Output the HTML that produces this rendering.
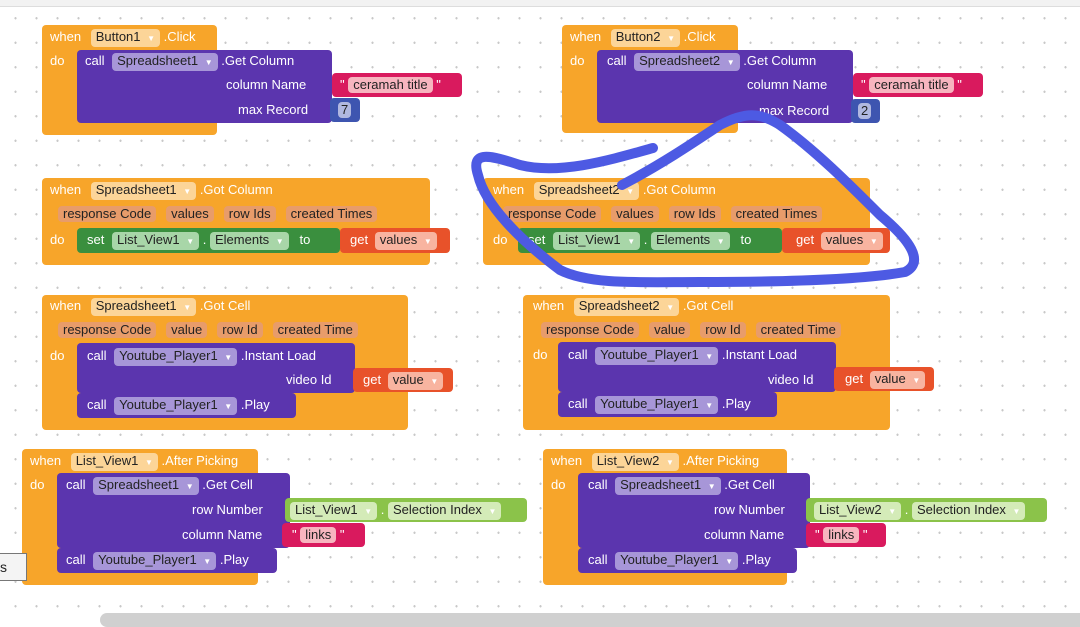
<!DOCTYPE html>
<html><head><meta charset="utf-8"><style>
body{margin:0;width:1080px;height:624px;overflow:hidden;position:relative;background:#fff;
background-image:radial-gradient(circle,#c8c8c8 1px,transparent 1.3px);background-size:21px 24.5px;background-position:5px 6px;
font-family:"Liberation Sans",Arial,sans-serif;font-size:13px;color:#fff}
.b{position:absolute;box-sizing:border-box;border-radius:4px}
.o{background:#F7A52A}.p{background:#5B35AE}.g{background:#3A8F3E}.lg{background:#8BC34A}.r{background:#D91A5E}.rd{background:#E8522A}.bl{background:#3E55B0}
.t{position:absolute;white-space:nowrap;line-height:16px}
.pill{display:inline-block;border-radius:4px;padding:0 5px;line-height:16px;color:#222}
.po{background:#FCD598}.pp{background:#A796D8}.pg{background:#A8D6A8}.pr{background:#F7B5BF}.prd{background:#F8B4A0}.plg{background:#D4EBB8}.pb{background:#B0B8E0}
.pa{background:#E89C6A;color:#222;border-radius:4px;padding:0 5px;line-height:16px;display:inline-block;margin-right:10px}
.ar{font-size:8px;color:#fff;margin-left:3px}
</style></head><body>
<div style="position:absolute;left:0;top:0;width:1080px;height:6px;background:#f2f2f2;border-bottom:1px solid #ddd"></div>

<!-- Block Button1 -->
<div class="b o" style="left:42px;top:25px;width:175px;height:110px"></div>
<div class="t" style="left:50px;top:29px">when <span class="pill po" style="margin-left:6px">Button1 <span class="ar" style="color:#fff">▼</span></span> .Click</div>
<div class="t" style="left:50px;top:53px">do</div>
<div class="b p" style="left:77px;top:50px;width:255px;height:73px"></div>
<div class="t" style="left:85px;top:53px">call <span class="pill pp" style="margin-left:4px">Spreadsheet1 <span class="ar">▼</span></span> .Get Column</div>
<div class="t" style="left:226px;top:77px">column Name</div>
<div class="t" style="left:238px;top:102px">max Record</div>
<div class="b r" style="left:332px;top:73px;width:130px;height:24px"></div>
<div class="t" style="left:340px;top:77px">" <span class="pill pr">ceramah title</span> "</div>
<div class="b bl" style="left:330px;top:98px;width:30px;height:24px"></div>
<div class="t" style="left:338px;top:102px"><span class="pill pb" style="padding:0 3px">7</span></div>

<!-- Block Button2 -->
<div class="b o" style="left:562px;top:25px;width:176px;height:108px"></div>
<div class="t" style="left:570px;top:29px">when <span class="pill po" style="margin-left:6px">Button2 <span class="ar">▼</span></span> .Click</div>
<div class="t" style="left:570px;top:53px">do</div>
<div class="b p" style="left:597px;top:50px;width:256px;height:73px"></div>
<div class="t" style="left:607px;top:53px">call <span class="pill pp" style="margin-left:4px">Spreadsheet2 <span class="ar">▼</span></span> .Get Column</div>
<div class="t" style="left:747px;top:77px">column Name</div>
<div class="t" style="left:759px;top:103px">max Record</div>
<div class="b r" style="left:853px;top:73px;width:130px;height:24px"></div>
<div class="t" style="left:861px;top:77px">" <span class="pill pr">ceramah title</span> "</div>
<div class="b bl" style="left:851px;top:99px;width:29px;height:24px"></div>
<div class="t" style="left:858px;top:103px"><span class="pill pb" style="padding:0 3px">2</span></div>

<!-- Got Column 1 -->
<div class="b o" style="left:42px;top:178px;width:388px;height:87px"></div>
<div class="t" style="left:50px;top:182px">when <span class="pill po" style="margin-left:6px">Spreadsheet1 <span class="ar">▼</span></span> .Got Column</div>
<div class="t" style="left:58px;top:206px"><span class="pa">response Code</span><span class="pa">values</span><span class="pa">row Ids</span><span class="pa">created Times</span></div>
<div class="t" style="left:50px;top:232px">do</div>
<div class="b g" style="left:77px;top:228px;width:263px;height:25px"></div>
<div class="t" style="left:87px;top:232px">set <span class="pill pg" style="margin-left:4px">List_View1 <span class="ar">▼</span></span> . <span class="pill pg">Elements <span class="ar">▼</span></span> &nbsp;&nbsp;to</div>
<div class="b rd" style="left:340px;top:228px;width:110px;height:25px"></div>
<div class="t" style="left:350px;top:232px">get <span class="pill prd" style="margin-left:3px">values <span class="ar">▼</span></span></div>

<!-- Got Column 2 -->
<div class="b o" style="left:483px;top:178px;width:387px;height:87px"></div>
<div class="t" style="left:493px;top:182px">when <span class="pill po" style="margin-left:6px">Spreadsheet2 <span class="ar">▼</span></span> .Got Column</div>
<div class="t" style="left:503px;top:206px"><span class="pa">response Code</span><span class="pa">values</span><span class="pa">row Ids</span><span class="pa">created Times</span></div>
<div class="t" style="left:493px;top:232px">do</div>
<div class="b g" style="left:518px;top:228px;width:264px;height:25px"></div>
<div class="t" style="left:528px;top:232px">set <span class="pill pg" style="margin-left:4px">List_View1 <span class="ar">▼</span></span> . <span class="pill pg">Elements <span class="ar">▼</span></span> &nbsp;&nbsp;to</div>
<div class="b rd" style="left:782px;top:228px;width:108px;height:25px"></div>
<div class="t" style="left:796px;top:232px">get <span class="pill prd" style="margin-left:3px">values <span class="ar">▼</span></span></div>

<!-- Got Cell 1 -->
<div class="b o" style="left:42px;top:295px;width:366px;height:135px"></div>
<div class="t" style="left:50px;top:298px">when <span class="pill po" style="margin-left:6px">Spreadsheet1 <span class="ar">▼</span></span> .Got Cell</div>
<div class="t" style="left:58px;top:322px"><span class="pa">response Code</span><span class="pa">value</span><span class="pa">row Id</span><span class="pa">created Time</span></div>
<div class="t" style="left:50px;top:348px">do</div>
<div class="b p" style="left:77px;top:343px;width:278px;height:50px"></div>
<div class="t" style="left:87px;top:348px">call <span class="pill pp" style="margin-left:4px">Youtube_Player1 <span class="ar">▼</span></span> .Instant Load</div>
<div class="t" style="left:286px;top:372px">video Id</div>
<div class="b rd" style="left:353px;top:368px;width:100px;height:24px"></div>
<div class="t" style="left:363px;top:372px">get <span class="pill prd" style="margin-left:3px">value <span class="ar">▼</span></span></div>
<div class="b p" style="left:77px;top:393px;width:219px;height:25px"></div>
<div class="t" style="left:87px;top:397px">call <span class="pill pp" style="margin-left:4px">Youtube_Player1 <span class="ar">▼</span></span> .Play</div>

<!-- Got Cell 2 -->
<div class="b o" style="left:523px;top:295px;width:367px;height:135px"></div>
<div class="t" style="left:533px;top:298px">when <span class="pill po" style="margin-left:6px">Spreadsheet2 <span class="ar">▼</span></span> .Got Cell</div>
<div class="t" style="left:541px;top:322px"><span class="pa">response Code</span><span class="pa">value</span><span class="pa">row Id</span><span class="pa">created Time</span></div>
<div class="t" style="left:533px;top:347px">do</div>
<div class="b p" style="left:558px;top:342px;width:278px;height:50px"></div>
<div class="t" style="left:568px;top:347px">call <span class="pill pp" style="margin-left:4px">Youtube_Player1 <span class="ar">▼</span></span> .Instant Load</div>
<div class="t" style="left:768px;top:372px">video Id</div>
<div class="b rd" style="left:834px;top:367px;width:100px;height:24px"></div>
<div class="t" style="left:845px;top:371px">get <span class="pill prd" style="margin-left:3px">value <span class="ar">▼</span></span></div>
<div class="b p" style="left:558px;top:392px;width:219px;height:25px"></div>
<div class="t" style="left:568px;top:396px">call <span class="pill pp" style="margin-left:4px">Youtube_Player1 <span class="ar">▼</span></span> .Play</div>

<!-- After Picking 1 -->
<div class="b o" style="left:22px;top:449px;width:236px;height:136px"></div>
<div class="t" style="left:30px;top:453px">when <span class="pill po" style="margin-left:6px">List_View1 <span class="ar">▼</span></span> .After Picking</div>
<div class="t" style="left:30px;top:477px">do</div>
<div class="b p" style="left:57px;top:473px;width:233px;height:75px"></div>
<div class="t" style="left:66px;top:477px">call <span class="pill pp" style="margin-left:4px">Spreadsheet1 <span class="ar">▼</span></span> .Get Cell</div>
<div class="t" style="left:192px;top:502px">row Number</div>
<div class="t" style="left:182px;top:527px">column Name</div>
<div class="b lg" style="left:285px;top:498px;width:242px;height:24px"></div>
<div class="t" style="left:290px;top:502px"><span class="pill plg">List_View1 <span class="ar">▼</span></span> . <span class="pill plg">Selection Index <span class="ar">▼</span></span></div>
<div class="b r" style="left:282px;top:523px;width:83px;height:24px"></div>
<div class="t" style="left:292px;top:527px">" <span class="pill pr">links</span> "</div>
<div class="b p" style="left:57px;top:548px;width:220px;height:25px"></div>
<div class="t" style="left:66px;top:552px">call <span class="pill pp" style="margin-left:4px">Youtube_Player1 <span class="ar">▼</span></span> .Play</div>

<!-- After Picking 2 -->
<div class="b o" style="left:543px;top:449px;width:244px;height:136px"></div>
<div class="t" style="left:551px;top:453px">when <span class="pill po" style="margin-left:6px">List_View2 <span class="ar">▼</span></span> .After Picking</div>
<div class="t" style="left:551px;top:477px">do</div>
<div class="b p" style="left:578px;top:473px;width:232px;height:75px"></div>
<div class="t" style="left:588px;top:477px">call <span class="pill pp" style="margin-left:4px">Spreadsheet1 <span class="ar">▼</span></span> .Get Cell</div>
<div class="t" style="left:714px;top:502px">row Number</div>
<div class="t" style="left:704px;top:527px">column Name</div>
<div class="b lg" style="left:806px;top:498px;width:241px;height:24px"></div>
<div class="t" style="left:814px;top:502px"><span class="pill plg">List_View2 <span class="ar">▼</span></span> . <span class="pill plg">Selection Index <span class="ar">▼</span></span></div>
<div class="b r" style="left:806px;top:523px;width:80px;height:24px"></div>
<div class="t" style="left:815px;top:527px">" <span class="pill pr">links</span> "</div>
<div class="b p" style="left:578px;top:548px;width:219px;height:25px"></div>
<div class="t" style="left:588px;top:552px">call <span class="pill pp" style="margin-left:4px">Youtube_Player1 <span class="ar">▼</span></span> .Play</div>

<!-- small box -->
<div style="position:absolute;left:-2px;top:553px;width:29px;height:28px;background:#f4f4f4;border:1px solid #777;box-sizing:border-box;color:#222;font-size:14px;line-height:26px;padding-left:1px">s</div>
<!-- scrollbar -->
<div style="position:absolute;left:100px;top:613px;width:990px;height:14px;background:#d0d0d0;border-radius:7px"></div>

<svg style="position:absolute;left:0;top:0" width="1080" height="624">
<path d="M653,148 C610,160 560,175 520,165 C490,155 470,150 478,175 C485,205 520,240 560,270 C590,285 640,282 700,282 C780,282 860,280 905,272 C925,262 910,240 880,215 C850,185 815,150 780,125 C760,112 745,112 720,125 C690,145 660,165 622,185" fill="none" stroke="#4D5AE3" stroke-width="10" stroke-linecap="round" stroke-linejoin="round"/>
</svg>
</body></html>
